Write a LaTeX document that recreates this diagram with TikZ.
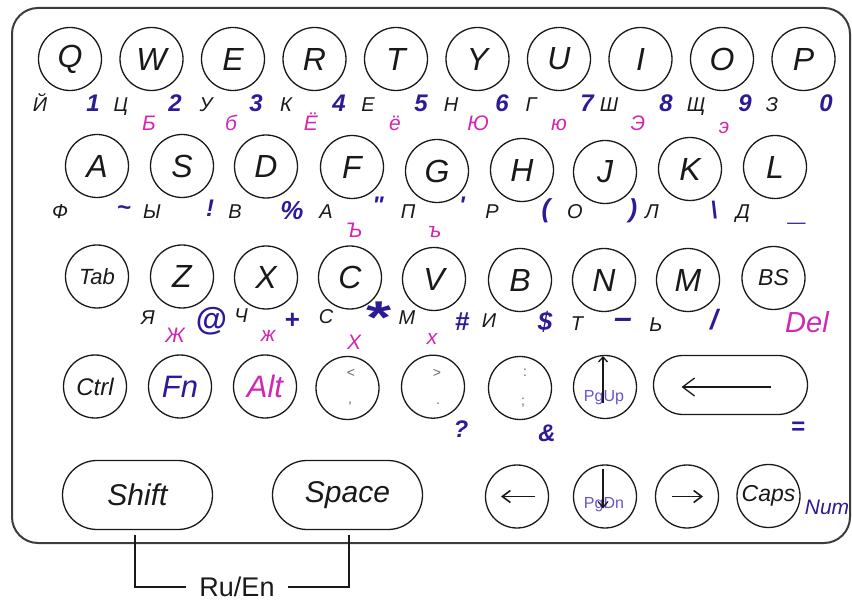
\documentclass[tikz,border=0pt]{standalone}
\usepackage{fontspec}
\newfontfamily\kf{Liberation Sans}
\usetikzlibrary{shapes.misc,arrows.meta}
\definecolor{kblue}{RGB}{43,27,150}
\definecolor{kmag}{RGB}{208,40,178}
\definecolor{ktxt}{RGB}{25,25,25}
\definecolor{kpg}{RGB}{100,85,205}
\definecolor{kframe}{RGB}{60,60,60}
\begin{document}
\begin{tikzpicture}[x=1pt,y=-1pt,
 key/.style={circle,draw=ktxt,line width=1.3pt,minimum size=63pt,inner sep=0pt,text=ktxt,font=\kf\itshape\fontsize{32}{32}\selectfont},
 wkey/.style={rounded rectangle,draw=ktxt,line width=1.3pt,inner sep=0pt,text=ktxt,font=\kf\itshape\fontsize{30}{30}\selectfont},
 cyr/.style={anchor=base,inner sep=0pt,text=ktxt,font=\kf\itshape\fontsize{20}{20}\selectfont},
 mag/.style={anchor=base,inner sep=0pt,text=kmag,font=\kf\itshape\fontsize{21}{21}\selectfont},
 num/.style={anchor=base,inner sep=0pt,text=kblue,font=\kf\itshape\bfseries\fontsize{24}{24}\selectfont},
 sym/.style={anchor=center,inner sep=0pt,text=kblue,font=\kf\itshape\bfseries\fontsize{24}{24}\selectfont},
 tiny/.style={inner sep=0pt,text=black!60,font=\kf\fontsize{14}{14}\selectfont},
 pg/.style={inner sep=0pt,text=kpg,font=\kf\fontsize{16}{16}\selectfont},
 arr/.style={line width=1.3pt,draw=ktxt},
 conn/.style={line width=1.3pt,draw=ktxt},
]
\useasboundingbox (0,0) rectangle (852,601);
% frame
\draw[line width=2pt,draw=kframe,rounded corners=26pt] (12,8) rectangle (850,543);

% row 1
\foreach \l/\x in {Q/70,W/151.5,E/233,R/314.5,T/396,Y/477.5,U/559,I/640.5,O/722,P/803.5}
  \node[key] (k\l) at (\x,59) {\l};
\foreach \t/\x [count=\i] in {Й/40,Ц/121,У/206,К/286,Е/368,Н/451,Г/531,Ш/609,Щ/696,З/772}
  \node[cyr] (ca\i) at (\x,112) {\t};
\foreach \t/\x [count=\i] in {1/93,2/175,3/256,4/339,5/421,6/502,7/587,8/666,9/745,0/826}
  \node[num] (na\i) at (\x,112) {\t};
\foreach \t/\x/\y [count=\i] in {Б/149/131,б/231/131,Ё/311/131,ё/395/131,Ю/478/131,ю/559/131,Э/638/131,э/724/134}
  \node[mag] (ma\i) at (\x,\y) {\t};

% row 2
\foreach \l/\x/\y in {A/97/166,S/182/166,D/266/166.5,F/352/167,G/437/171,H/522/170,J/605/172,K/690/169,L/775/167}
  \node[key] (k\l) at (\x,\y) {\l};
\foreach \t/\x [count=\i] in {Ф/60,Ы/152,В/235,А/326,П/408,Р/492,О/575,Л/652,Д/743}
  \node[cyr] (cb\i) at (\x,219) {\t};
\foreach \t/\x [count=\i] in {Ъ/354,ъ/435}
  \node[mag] (mb\i) at (\x,238) {\t};
\node[sym] (sb1) at (124,211) {\textasciitilde};
\node[sym] (sb2) at (210,208) {!};
\node[sym,font=\kf\itshape\bfseries\fontsize{26}{26}\selectfont] (sb3) at (292,211) {\%};
\node[sym] (sb4) at (378,205) {"};
\node[sym] (sb5) at (462,205) {\textquotesingle};
\node[sym,font=\kf\itshape\bfseries\fontsize{26}{26}\selectfont] (sb6) at (546,211) {(};
\node[sym,font=\kf\itshape\bfseries\fontsize{26}{26}\selectfont] (sb7) at (633,211) {)};
\node[sym] (sb8) at (714,210) {\textbackslash};
\node[sym,font=\kf\itshape\bfseries\fontsize{32}{32}\selectfont] (sb9) at (798,222) {\textunderscore};

% row 3
\node[key,font=\kf\itshape\fontsize{22}{22}\selectfont] (kTab) at (97,276.5) {Tab};
\foreach \l/\x/\y in {Z/182/276.5,X/266/277.5,C/350/277.5,V/434/279,B/520/280,N/604/280,M/688/280}
  \node[key] (k\l) at (\x,\y) {\l};
\node[key,font=\kf\itshape\fontsize{23}{23}\selectfont] (kBS) at (773.5,278) {BS};
\foreach \t/\x/\y [count=\i] in {Я/148/325,Ч/241/323,С/326/324,М/407/325,И/489/328,Т/577/331,Ь/656/332}
  \node[cyr] (cc\i) at (\x,\y) {\t};
\foreach \t/\x/\y [count=\i] in {Ж/175/343,ж/268/342,Х/354/350,х/432/345}
  \node[mag] (mc\i) at (\x,\y) {\t};
\node[sym,font=\kf\itshape\bfseries\fontsize{32}{32}\selectfont] (sc1) at (211,321) {@};
\node[sym,font=\kf\itshape\bfseries\fontsize{26}{26}\selectfont] (sc2) at (292,321) {+};
\node[sym,font=\kf\bfseries\fontsize{46}{46}\selectfont] (sc3) at (379,318) {\scalebox{1.4}[1]{*}};
\node[sym,font=\kf\itshape\bfseries\fontsize{26}{26}\selectfont] (sc4) at (462,322) {\#};
\node[sym,font=\kf\itshape\bfseries\fontsize{26}{26}\selectfont] (sc5) at (545,322) {\$};
\node[sym,font=\kf\itshape\bfseries\fontsize{32}{32}\selectfont] (sc6) at (623,323) {–};
\node[sym,font=\kf\itshape\bfseries\fontsize{28}{28}\selectfont] (sc7) at (714,320) {/};
\node[sym,text=kmag,font=\kf\itshape\fontsize{29}{29}\selectfont] (sc8) at (807,322) {Del};

% row 4
\node[key,font=\kf\itshape\fontsize{24}{24}\selectfont] (kCtrl) at (95,386.5) {Ctrl};
\node[key,text=kblue,font=\kf\itshape\fontsize{31}{31}\selectfont] (kFn) at (180,386.5) {Fn};
\node[key,text=kmag,font=\kf\itshape\fontsize{31}{31}\selectfont] (kAlt) at (265,386.5) {Alt};
\node[key] (klt) at (347.5,388) {};
\node[key] (kgt) at (433,386.7) {};
\node[key] (kcol) at (520,388) {};
\node[key] (kup) at (605,387) {};
\node[wkey,minimum width=154pt,minimum height=59pt] (kbsl) at (730.5,385) {};
\node[tiny] (t1) at (351,373) {<};
\node[tiny] (t2) at (350,404) {,};
\node[tiny] (t3) at (437,373) {>};
\node[tiny] (t4) at (438,404) {.};
\node[tiny] (t5) at (525,373) {:};
\node[tiny] (t6) at (523,403) {;};
\node[pg] (pgu) at (604,398) {PgUp};
\draw[arr,-{Straight Barb[length=5pt,width=9pt]}] (kup.center) ++(-2,16) -- ++(0,-47);
\draw[arr,-{Straight Barb[length=12pt,width=18pt]}] (kbsl.center) ++(40,2) -- ++(-89,0);
\node[sym] (sd1) at (461,429) {?};
\node[sym] (sd2) at (547,433) {\&};
\node[sym] (sd3) at (798,428) {=};

% row 5
\node[wkey,minimum width=150pt,minimum height=69pt] (kshift) at (137.5,495) {Shift};
\node[wkey,minimum width=150pt,minimum height=69pt] (kspace) at (347.5,495) {Space};
\node[key] (kleft) at (517,496.5) {};
\node[key] (kdn) at (605,496.5) {};
\node[key] (kright) at (687,496.5) {};
\node[key,font=\kf\itshape\fontsize{23}{23}\selectfont] (kcaps) at (768.5,496) {Caps};
\node[sym,font=\kf\itshape\fontsize{21}{21}\selectfont] (num) at (827,507) {Num};
\node[pg] (pgd) at (604,505) {PgDn};
\draw[arr,-{Straight Barb[length=6pt,width=10pt]}] (kdn.center) ++(-2,-27) -- ++(0,39);
\draw[arr,line width=1.6pt,-{Straight Barb[length=8pt,width=12pt]}] (kleft.center) ++(18,0) -- ++(-34,0);
\draw[arr,line width=1.6pt,-{Straight Barb[length=8pt,width=12pt]}] (kright.center) ++(-15,0) -- ++(31,0);

% Ru/En connector
\node[inner sep=0pt,inner xsep=13pt,text=ktxt,font=\kf\fontsize{27}{27}\selectfont] (ru) at (237,587) {Ru/En};
\coordinate (shb) at (135,535);
\coordinate (spb) at (349,535);
\draw[conn] (shb) |- (ru.west);
\draw[conn] (spb) |- (ru.east);
\end{tikzpicture}
\end{document}
